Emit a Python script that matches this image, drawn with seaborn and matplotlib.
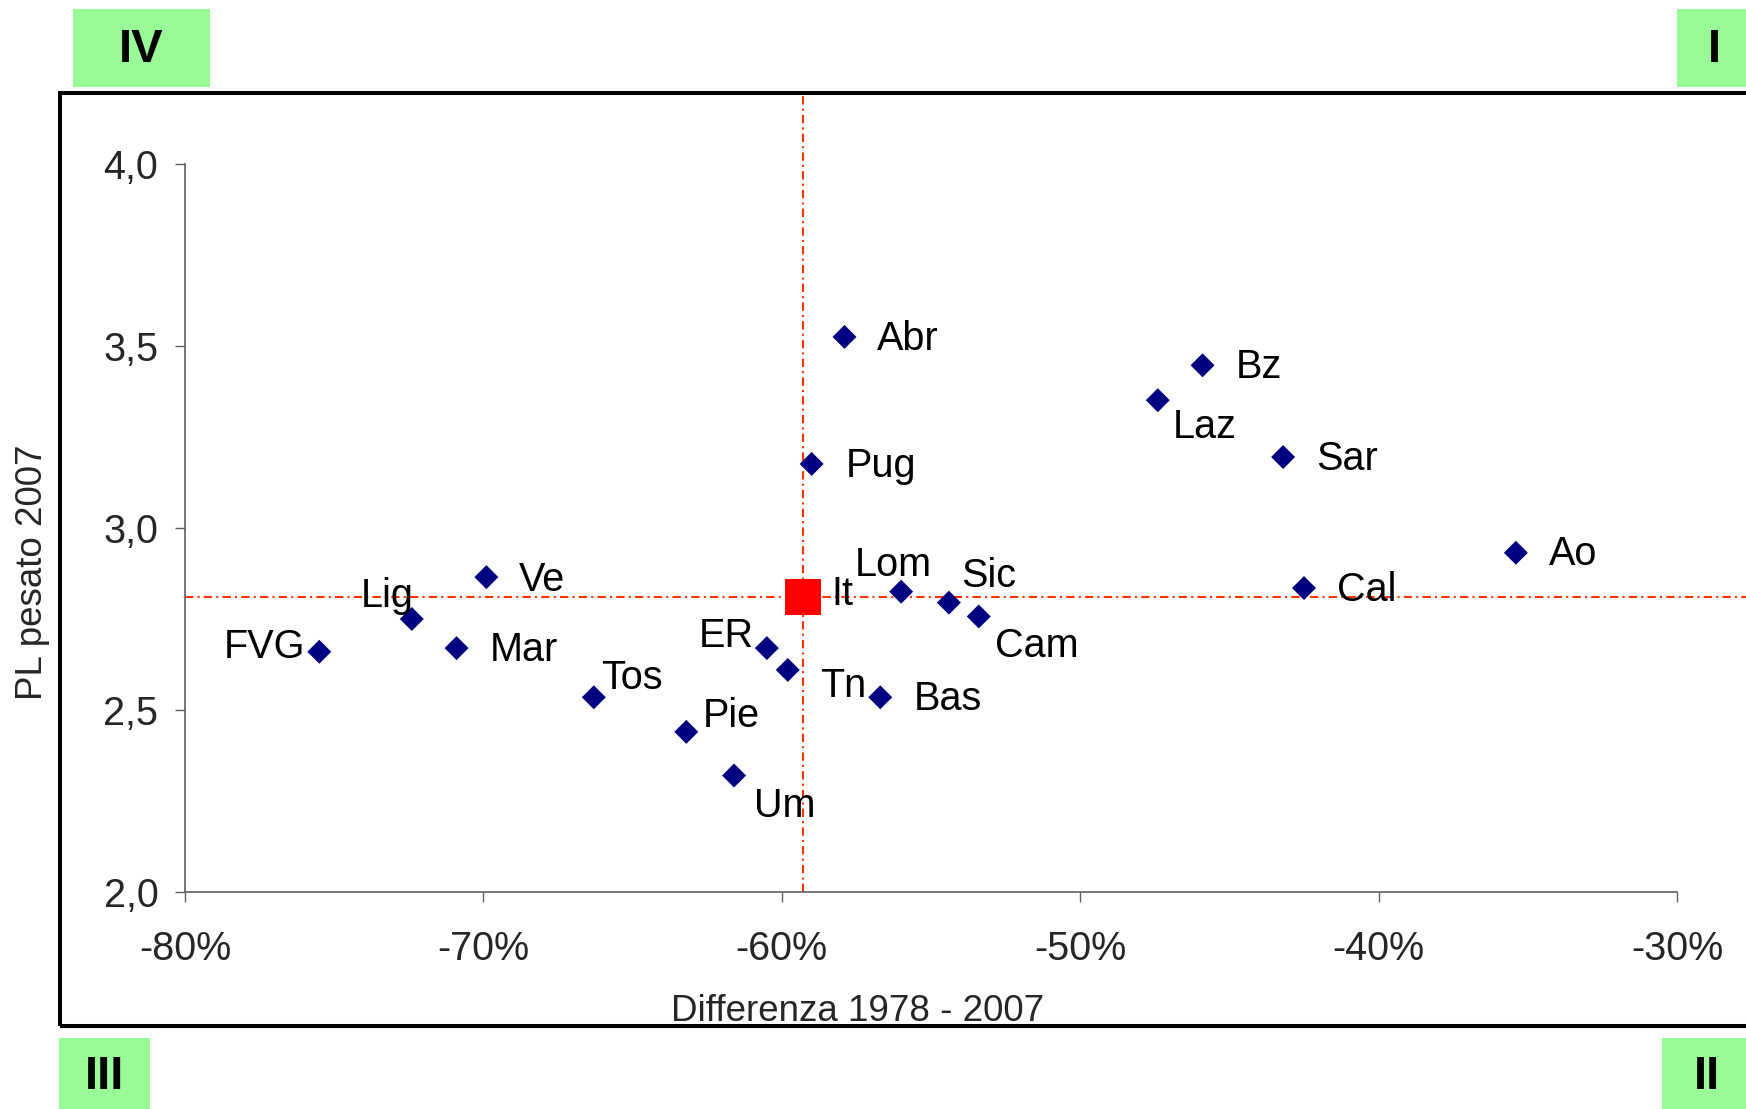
"""
Diagramma a quadranti: PL pesato 2007 vs differenza 1978 - 2007 per regione.
Output: out.png
"""

import numpy as np
import pandas as pd
import matplotlib
matplotlib.use("Agg")
import matplotlib.pyplot as plt
import seaborn as sns
from matplotlib.patches import Rectangle
from matplotlib.ticker import FuncFormatter

# ============================================================
# dati
# ============================================================
regions = ["FVG", "Lig", "Mar", "Ve", "Tos", "ER", "Tn", "Pie", "Um", "Lom",
           "Sic", "Cam", "Bas", "Abr", "Pug", "Bz", "Laz", "Sar", "Cal", "Ao"]
diff_1978_2007 = [-75.5, -72.4, -70.9, -69.9, -66.3, -60.5, -59.8, -63.2, -61.6, -56.0,
                  -54.4, -53.4, -56.7, -57.9, -59.0, -45.9, -47.4, -43.2, -42.5, -35.4]
pl_2007 = [2.66, 2.75, 2.67, 2.865, 2.535, 2.67, 2.61, 2.44, 2.32, 2.825,
           2.795, 2.757, 2.535, 3.525, 3.176, 3.447, 3.351, 3.195, 2.835, 2.932]

italy_label = "It"
italy_diff = -59.3
italy_pl = 2.81

x_ticks = [-80, -70, -60, -50, -40, -30]
y_ticks = [2.0, 2.5, 3.0, 3.5, 4.0]
quadrants = ["IV", "I", "III", "II"]

# posizione delle etichette rispetto al punto (pixel: dx, dy verso l'alto, allineamento)
label_offsets = {
    "FVG": (-14, 10, "right"), "Lig": (2, 28, "right"), "Mar": (33, 3, "left"),
    "Ve": (32, 2, "left"), "Tos": (7, 24, "left"), "ER": (-13, 17, "right"),
    "Tn": (32, -11, "left"), "Pie": (16, 21, "left"), "Um": (20, -25, "left"),
    "Lom": (-8, 32, "center"), "Sic": (12, 32, "left"), "Cam": (16, -25, "left"),
    "Bas": (33, 3, "left"), "Abr": (32, 3, "left"), "Pug": (34, 3, "left"),
    "Bz": (33, 3, "left"), "Laz": (15, -22, "left"), "Sar": (33, 3, "left"),
    "Cal": (33, 3, "left"), "Ao": (33, 4, "left"), "It": (29, 8, "left"),
}
LABEL_SHIFT = -5  # il centro del riquadro di testo sta un po' sopra le maiuscole

df = pd.DataFrame({"regione": regions, "diff": diff_1978_2007, "pl": pl_2007})

# ============================================================
# stile
# ============================================================
sns.set_style("white")
plt.rcParams["font.family"] = ["Liberation Sans", "DejaVu Sans"]

W, H = 1746, 1109
fig = plt.figure(figsize=(W / 100, H / 100), dpi=100)
ax = fig.add_axes([185 / W, (H - 892) / H, (1677 - 185) / W, 728 / H])

PX = 0.72  # pixel -> punti a 100 dpi
LINE_RED = "#FF3300"

# linee di riferimento (Italia)
ax.axhline(italy_pl, xmin=0, xmax=1.06, color=LINE_RED, lw=1.5,
           linestyle=(0, (4, 2, 1, 2)), clip_on=False, zorder=1)
ax.axvline(italy_diff, ymin=0, ymax=(892 - 92) / 728, color=LINE_RED, lw=1.5,
           linestyle=(0, (4, 2, 1, 2)), clip_on=False, zorder=1)

sns.scatterplot(data=df, x="diff", y="pl", marker="D", s=149, color="#000080",
                edgecolor="none", linewidth=0, ax=ax, zorder=3, legend=False)
sns.scatterplot(x=[italy_diff], y=[italy_pl], marker="s", s=671, color="#FF0000",
                edgecolor="none", linewidth=0, ax=ax, zorder=4, legend=False)

for name, xv, yv in zip(regions + [italy_label], diff_1978_2007 + [italy_diff],
                        pl_2007 + [italy_pl]):
    dx, dy, ha = label_offsets[name]
    ax.annotate(name, (xv, yv), xytext=(dx * PX, (dy + LABEL_SHIFT) * PX),
                textcoords="offset points", ha=ha, va="center", fontsize=28.5,
                color="black", zorder=5, annotation_clip=False)

ax.set_xlim(-80, -30)
ax.set_ylim(2, 4)
ax.set_xticks(x_ticks)
ax.set_yticks(y_ticks)
ax.xaxis.set_major_formatter(FuncFormatter(lambda v, p: f"{v:.0f}%"))
ax.yaxis.set_major_formatter(FuncFormatter(lambda v, p: f"{v:.1f}".replace(".", ",")))
ax.tick_params(axis="x", direction="out", length=7.2, width=1, color="#606060",
               labelsize=28.5, pad=20, bottom=True)
ax.tick_params(axis="y", direction="out", length=7.2, width=1, color="#606060",
               labelsize=28.5, pad=12, left=True)

for side in ["top", "right"]:
    ax.spines[side].set_visible(False)
for side in ["left", "bottom"]:
    ax.spines[side].set_color("#606060")
    ax.spines[side].set_linewidth(1.2)

ax.set_xlabel("Differenza 1978 - 2007", fontsize=26.5)
ax.set_ylabel("PL pesato 2007", fontsize=26.5)
ax.xaxis.set_label_coords((857.5 - 185) / 1492, (892 - 994) / 728)
ax.yaxis.set_label_coords((50 - 185) / 1492, (892 - 572) / 728)

# cornice esterna
fig.patches.append(Rectangle((60 / W, (H - 1026) / H), 1.1, (1026 - 93) / H,
                             transform=fig.transFigure, fill=False,
                             edgecolor="black", linewidth=2.9, zorder=0))

# riquadri dei quadranti
GREEN = "#98FB98"
boxes = [(73, 9, 137, 78), (1677, 9, 100, 78), (59, 1038, 91, 80), (1662, 1038, 100, 80)]
text_pos = [(141.5, 49.5), (1714, 49.5), (104.5, 1076.7), (1707, 1076.7)]
for q, (bx, by, bw, bh), (tx, ty) in zip(quadrants, boxes, text_pos):
    fig.patches.append(Rectangle((bx / W, 1 - (by + bh) / H), bw / W, bh / H,
                                 transform=fig.transFigure, facecolor=GREEN,
                                 edgecolor="none", zorder=0))
    fig.text(tx / W, 1 - ty / H, q, ha="center", va="center", fontsize=34,
             fontweight="bold", color="black")

fig.savefig("out.png", dpi=100)
plt.close()
